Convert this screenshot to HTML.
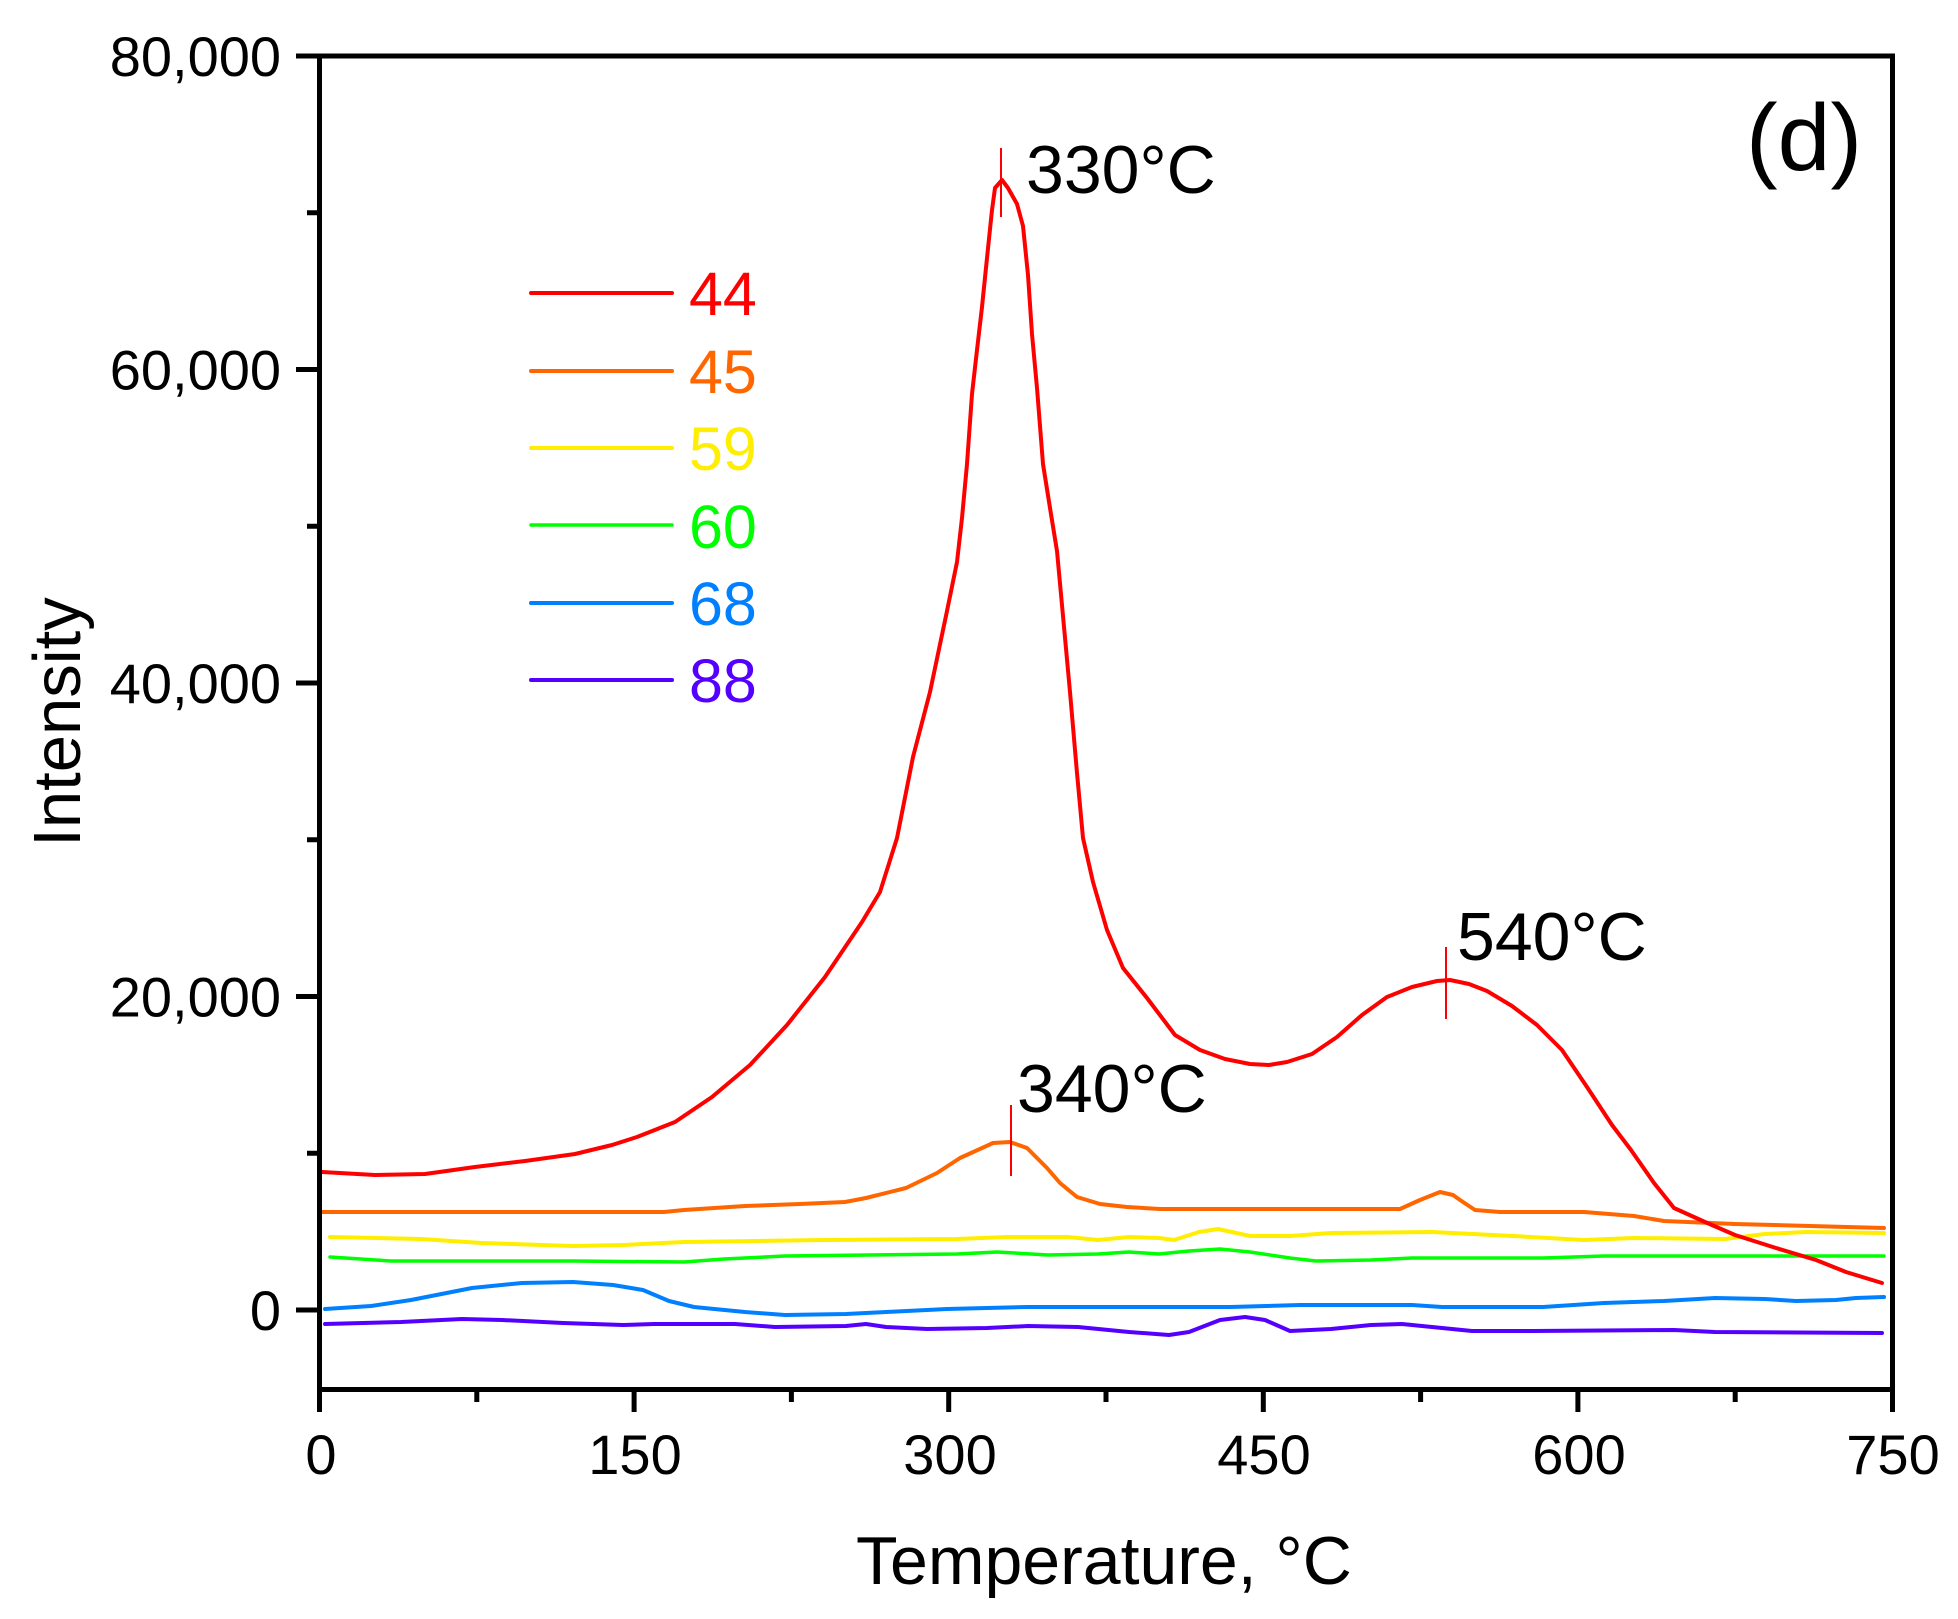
<!DOCTYPE html>
<html>
<head>
<meta charset="utf-8">
<style>
html,body{margin:0;padding:0;background:#fff;}
svg{display:block;}
text{font-family:"Liberation Sans",Arial,sans-serif;}
</style>
</head>
<body>
<svg width="1958" height="1619" viewBox="0 0 1958 1619" xmlns="http://www.w3.org/2000/svg">
<rect x="0" y="0" width="1958" height="1619" fill="#fff"/>

<!-- series -->
<g fill="none" stroke-width="4" stroke-linejoin="round" stroke-linecap="round">
<polyline stroke="#5500FF" points="325,1324 401,1322 462,1319 502,1320 563,1323 623,1325 654,1324 735,1324 775,1327 846,1326 866,1324 886,1327 927,1329 987,1328 1028,1326 1078,1327 1129,1332 1169,1335 1189,1332 1220,1320 1245,1317 1265,1320 1290,1331 1331,1329 1371,1325 1402,1324 1432,1327 1472,1331 1533,1331 1674,1330 1715,1332 1882,1333"/>
<polyline stroke="#0080FF" points="325,1309 371,1306 411,1300 472,1288 522,1283 573,1282 613,1285 643,1290 669,1301 694,1307 745,1312 785,1315 846,1314 886,1312 947,1309 1028,1307 1230,1307 1300,1305 1412,1305 1442,1307 1543,1307 1604,1303 1664,1301 1715,1298 1765,1299 1796,1301 1836,1300 1856,1298 1884,1297"/>
<polyline stroke="#00FF00" stroke-width="3.5" points="330,1257 391,1261 573,1261 684,1262 724,1259 785,1256 957,1254 997,1252 1048,1255 1098,1254 1129,1252 1159,1254 1189,1251 1220,1249 1250,1252 1290,1258 1316,1261 1371,1260 1412,1258 1543,1258 1604,1256 1884,1256"/>
<polyline stroke="#FFEE00" points="330,1237 421,1239 482,1243 573,1246 623,1245 684,1242 825,1240 957,1239 1007,1237 1068,1237 1098,1240 1129,1237 1159,1238 1174,1240 1199,1232 1218,1229 1250,1236 1290,1236 1331,1233 1432,1232 1513,1236 1584,1240 1634,1238 1725,1239 1765,1234 1806,1232 1884,1233"/>
<polyline stroke="#FF6600" points="322,1212 664,1212 684,1210 745,1206 800,1204 845,1202 866,1198 906,1188 937,1173 960,1158 993,1143 1010,1142 1027,1148 1047,1168 1060,1183 1077,1197 1100,1204 1127,1207 1160,1209 1327,1209 1400,1209 1420,1200 1440,1192 1453,1195 1460,1200 1475,1210 1500,1212 1584,1212 1634,1216 1664,1221 1735,1224 1884,1228"/>
<polyline stroke="#FF0000" points="322,1172 375,1175 425,1174 475,1167 525,1161 575,1154 612,1145 637,1137 675,1122 712,1097 750,1065 787,1025 825,977 862,922 880,892 897,838 913,757 930,692 947,611 957,562 962,518 967,464 972,394 977,350 982,307 987,258 992,210 995,188 1002,180 1008,188 1017,204 1023,226 1028,275 1032,334 1037,388 1043,464 1050,508 1057,551 1063,616 1070,692 1077,773 1083,838 1093,882 1107,930 1123,968 1147,998 1175,1035 1200,1050 1225,1059 1250,1064 1269,1065 1287,1062 1312,1054 1337,1037 1362,1015 1387,997 1412,987 1437,981 1450,980 1469,984 1487,991 1512,1006 1537,1025 1562,1050 1587,1087 1612,1125 1631,1150 1654,1183 1674,1208 1705,1222 1735,1235 1776,1248 1816,1260 1846,1272 1882,1283"/>
</g>

<!-- peak markers -->
<g stroke="#FF0000" stroke-width="2">
<line x1="1001" y1="148" x2="1001" y2="217"/>
<line x1="1011" y1="1105" x2="1011" y2="1176"/>
<line x1="1446" y1="947" x2="1446" y2="1019"/>
</g>

<!-- frame -->
<rect x="319.5" y="56" width="1573" height="1333.5" fill="none" stroke="#000" stroke-width="5"/>

<!-- ticks -->
<g stroke="#000" stroke-width="5">
<line x1="296" y1="1310" x2="320" y2="1310"/>
<line x1="296" y1="996.5" x2="320" y2="996.5"/>
<line x1="296" y1="683" x2="320" y2="683"/>
<line x1="296" y1="369.5" x2="320" y2="369.5"/>
<line x1="296" y1="56" x2="320" y2="56"/>
<line x1="307" y1="1153.25" x2="320" y2="1153.25"/>
<line x1="307" y1="839.75" x2="320" y2="839.75"/>
<line x1="307" y1="526.25" x2="320" y2="526.25"/>
<line x1="307" y1="212.75" x2="320" y2="212.75"/>
<line x1="319.5" y1="1389" x2="319.5" y2="1412"/>
<line x1="634.1" y1="1389" x2="634.1" y2="1412"/>
<line x1="948.7" y1="1389" x2="948.7" y2="1412"/>
<line x1="1263.3" y1="1389" x2="1263.3" y2="1412"/>
<line x1="1577.9" y1="1389" x2="1577.9" y2="1412"/>
<line x1="1892.5" y1="1389" x2="1892.5" y2="1412"/>
<line x1="476.8" y1="1389" x2="476.8" y2="1402"/>
<line x1="791.4" y1="1389" x2="791.4" y2="1402"/>
<line x1="1106" y1="1389" x2="1106" y2="1402"/>
<line x1="1420.6" y1="1389" x2="1420.6" y2="1402"/>
<line x1="1735.2" y1="1389" x2="1735.2" y2="1402"/>
</g>

<!-- y tick labels -->
<g font-size="56" text-anchor="end" fill="#000">
<text x="281" y="1330">0</text>
<text x="281" y="1016.5">20,000</text>
<text x="281" y="703">40,000</text>
<text x="281" y="389.5">60,000</text>
<text x="281" y="76">80,000</text>
</g>

<!-- x tick labels -->
<g font-size="56" text-anchor="middle" fill="#000">
<text x="321" y="1474">0</text>
<text x="635" y="1474">150</text>
<text x="950" y="1474">300</text>
<text x="1264" y="1474">450</text>
<text x="1579" y="1474">600</text>
<text x="1893" y="1474">750</text>
</g>

<!-- axis titles -->
<text x="856" y="1584" font-size="68" fill="#000">Temperature, °C</text>
<text transform="translate(80,722) rotate(-90)" font-size="67" text-anchor="middle" fill="#000">Intensity</text>

<!-- panel label -->
<text x="1746" y="170" font-size="95" fill="#000">(d)</text>

<!-- peak labels -->
<g font-size="68" fill="#000">
<text x="1026" y="193">330°C</text>
<text x="1017" y="1112">340°C</text>
<text x="1457" y="960">540°C</text>
</g>

<!-- legend -->
<g stroke-width="4" stroke-linecap="round">
<line x1="531" y1="293" x2="672" y2="293" stroke="#FF0000"/>
<line x1="531" y1="371" x2="672" y2="371" stroke="#FF6600"/>
<line x1="531" y1="448" x2="672" y2="448" stroke="#FFEE00"/>
<line x1="531" y1="525" x2="672" y2="525" stroke="#00FF00" stroke-width="3.5"/>
<line x1="531" y1="603" x2="672" y2="603" stroke="#0080FF"/>
<line x1="531" y1="680" x2="672" y2="680" stroke="#5500FF"/>
</g>
<g font-size="61">
<text x="689" y="315" fill="#FF0000">44</text>
<text x="689" y="393" fill="#FF6600">45</text>
<text x="689" y="470" fill="#FFEE00">59</text>
<text x="689" y="548" fill="#00FF00">60</text>
<text x="689" y="625" fill="#0080FF">68</text>
<text x="689" y="702" fill="#5500FF">88</text>
</g>
</svg>
</body>
</html>
